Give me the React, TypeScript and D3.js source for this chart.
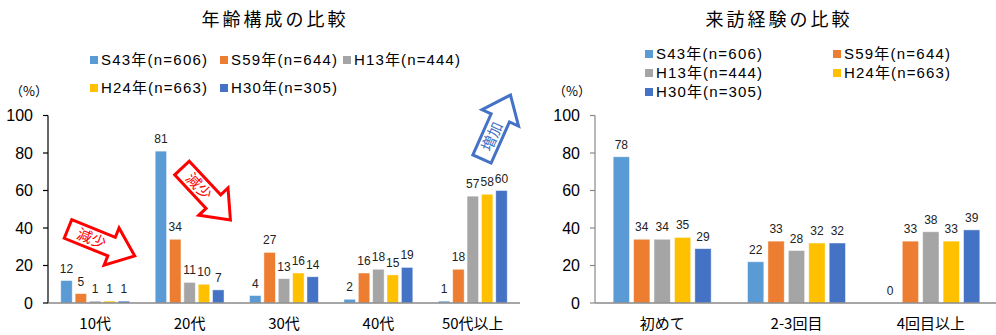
import React from 'react'
import * as d3 from 'd3'

const ageCategories = ['10代', '20代', '30代', '40代', '50代以上']
const visitCategories = ['初めて', '2-3回目', '4回目以上']
const seriesNames = ['S43年(n=606)', 'S59年(n=644)', 'H13年(n=444)', 'H24年(n=663)', 'H30年(n=305)']
const seriesColors = ['#5B9BD5', '#ED7D31', '#A5A5A5', '#FFC000', '#4472C4']

const ageS43 = [12, 81, 4, 2, 1]
const ageS59 = [5, 34, 27, 16, 18]
const ageH13 = [1, 11, 13, 18, 57]
const ageH24 = [1, 10, 16, 15, 58]
const ageH30 = [1, 7, 14, 19, 60]

const visitS43 = [78, 22, 0]
const visitS59 = [34, 33, 33]
const visitH13 = [34, 28, 38]
const visitH24 = [35, 32, 33]
const visitH30 = [29, 32, 39]

const yTicks = [0, 20, 40, 60, 80, 100]

const FONT = '"Liberation Sans", Arial, "Noto Sans CJK JP", sans-serif'
const JP = '"Noto Sans CJK JP", sans-serif'

const y = d3.scaleLinear().domain([0, 100]).range([303, 115.5])

function Panel({ cats, series, x0Range, axisColor }) {
  const x0 = d3.scaleBand().domain(cats).range(x0Range).paddingInner(0.24).paddingOuter(0.12)
  const x1 = d3.scaleBand().domain(d3.range(series.length)).range([0, x0.bandwidth()]).paddingInner(0.2).paddingOuter(0.1)
  const left = x0Range[0]
  return (
    <g>
      <line x1={left} x2={left} y1={y(100)} y2={y(0)} stroke={axisColor} strokeWidth={1.2} />
      {yTicks.map(t => (
        <g key={t}>
          <line x1={left - 5} x2={left} y1={y(t)} y2={y(t)} stroke={axisColor} strokeWidth={1.2} />
          <text x={left - 15} y={y(t)} dy="0.35em" textAnchor="end" fontSize={16} fontFamily={FONT} fill="#000">{t}</text>
        </g>
      ))}
      {series.map((vals, si) => (
        <g key={si} fill={seriesColors[si]}>
          {vals.map((v, ci) => (
            <g key={ci}>
              <rect x={x0(cats[ci]) + x1(si)} y={y(v)} width={x1.bandwidth()} height={y(0) - y(v)}
                stroke="#fff" strokeOpacity={0.6} strokeWidth={0.8} />
              <text x={x0(cats[ci]) + x1(si) + x1.bandwidth() / 2} y={y(v) - 8} textAnchor="middle"
                fontSize={12} fontFamily={FONT} fill="#222">{v}</text>
            </g>
          ))}
        </g>
      ))}
      <line x1={left} x2={x0Range[1]} y1={y(0)} y2={y(0)} stroke="#898989" strokeWidth={1.5} />
      {cats.map(c => (
        <text key={c} x={x0(c) + x0.bandwidth() / 2} y={329} textAnchor="middle" fontSize={15} fontFamily={JP} fill="#000">{c}</text>
      ))}
    </g>
  )
}

function Arrow({ x, y: ay, len, angle, color, label }) {
  const w = 20, hw = 40, hl = 25
  const d = `M0,${-w / 2}L${len - hl},${-w / 2}L${len - hl},${-hw / 2}L${len},0L${len - hl},${hw / 2}L${len - hl},${w / 2}L0,${w / 2}Z`
  return (
    <g transform={`translate(${x},${ay}) rotate(${angle})`}>
      <path d={d} fill="#fff" stroke={color} strokeWidth={3} strokeLinejoin="miter" />
      <text x={(len - hl) / 2 + 2} y={0} dy="0.36em" textAnchor="middle" fontSize={15} fontFamily={JP} fill={color}>{label}</text>
    </g>
  )
}

function Legend({ items, textWidth }) {
  return (
    <g>
      {items.map(([name, color, lx, ly]) => (
        <g key={name}>
          <rect x={lx} y={ly - 4} width={8} height={8} fill={color} />
          <text x={lx + 11} y={ly} dy="0.36em" fontSize={15} fontFamily={FONT} fill="#000"
            textLength={textWidth} lengthAdjust="spacing">{name}</text>
        </g>
      ))}
    </g>
  )
}

export default function App() {
  const leftLegend = [
    [seriesNames[0], seriesColors[0], 90, 60],
    [seriesNames[1], seriesColors[1], 220, 60],
    [seriesNames[2], seriesColors[2], 343, 60],
    [seriesNames[3], seriesColors[3], 90, 88],
    [seriesNames[4], seriesColors[4], 220, 88],
  ]
  const rightLegend = [
    [seriesNames[0], seriesColors[0], 645, 54],
    [seriesNames[1], seriesColors[1], 833, 54],
    [seriesNames[2], seriesColors[2], 645, 73],
    [seriesNames[3], seriesColors[3], 833, 73],
    [seriesNames[4], seriesColors[4], 645, 92],
  ]
  return (
    <svg width={996} height={335} style={{ position: 'absolute', left: 0, top: 0, background: '#fff' }}>
      <text x={275} y={26} textAnchor="middle" fontSize={18} letterSpacing={3} fontFamily={JP} fill="#000">年齢構成の比較</text>
      <text x={779} y={26} textAnchor="middle" fontSize={18} letterSpacing={3} fontFamily={JP} fill="#000">来訪経験の比較</text>
      <text x={10} y={96} fontSize={13} fontFamily={JP} fill="#000">（%）</text>
      <text x={553} y={96} fontSize={13} fontFamily={JP} fill="#000">（%）</text>
      <Legend items={leftLegend} textWidth={106} />
      <Legend items={rightLegend} textWidth={106} />
      <Panel cats={ageCategories} series={[ageS43, ageS59, ageH13, ageH24, ageH30]} x0Range={[48, 520]} axisColor="#000" />
      <Panel cats={visitCategories} series={[visitS43, visitS59, visitH13, visitH24, visitH30]} x0Range={[595, 998]} axisColor="#898989" />
      <Arrow x={68} y={229} len={72} angle={22} color="#FF0000" label="減少" />
      <Arrow x={182} y={168} len={71} angle={47} color="#FF0000" label="減少" />
      <Arrow x={482} y={159} len={70} angle={-66} color="#4472C4" label="増加" />
    </svg>
  )
}
